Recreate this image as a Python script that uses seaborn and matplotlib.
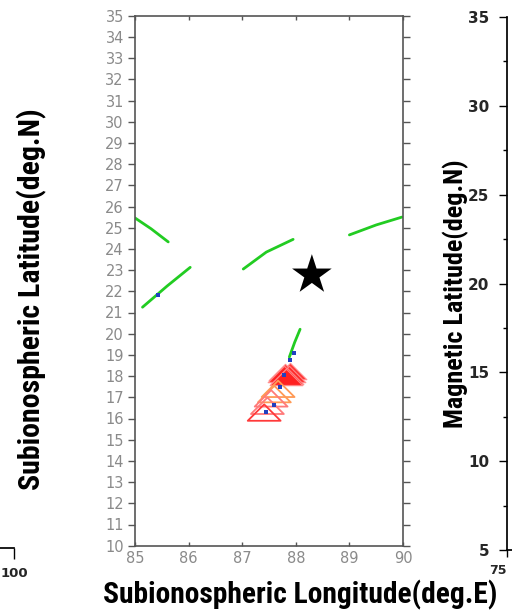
import numpy as np
import pandas as pd
import matplotlib
matplotlib.use("Agg")
import matplotlib.pyplot as plt
from matplotlib.path import Path
from matplotlib import font_manager
import seaborn as sns

# ---------------- data ----------------
seg_id = [1, 1, 1, 2, 2, 2, 3, 3, 3, 4, 4, 4, 5, 5, 5]
green_lon = [85.0, 85.3, 85.62, 85.14, 85.6, 86.03, 87.02, 87.45, 87.95,
             89.0, 89.5, 89.98, 88.08, 87.98, 87.88]
green_lat = [25.46, 24.95, 24.33, 21.25, 22.25, 23.13, 23.05, 23.85, 24.45,
             24.66, 25.13, 25.5, 20.21, 19.6, 18.9]

dome_lon = [87.9, 87.8, 87.88, 87.78, 87.84, 87.82]
dome_lat = [18.25, 18.2, 18.12, 18.08, 18.02, 17.95]

tri_lon = [87.67, 87.6, 87.54, 87.47, 87.41]
tri_lat = [17.4, 17.15, 16.95, 16.6, 16.28]
tri_kind = ["orange", "orange", "pink", "pink", "red"]

blue_lon = [85.43, 87.96, 87.9, 87.78, 87.7, 87.6, 87.45]
blue_lat = [21.83, 19.1, 18.76, 18.05, 17.5, 16.64, 16.32]

star_lon = [88.3]
star_lat = [22.77]

lat_ticks = list(range(10, 36))
lon_ticks = [85, 86, 87, 88, 89, 90]
mag_ticks = [5, 10, 15, 20, 25, 30, 35]

# ---------------- style ----------------
sns.set_theme(style="white")
fonts = font_manager.fontManager.ttflist
names = {f.name for f in fonts}
narrow, stretch = "DejaVu Sans", "normal"
for cand in ["Liberation Sans Narrow", "Roboto Condensed", "Open Sans Condensed"]:
    if cand in names:
        narrow = cand
        break
else:
    if any(f.name == "DejaVu Sans" and f.stretch in ("condensed", "semi-condensed")
           for f in fonts):
        stretch = "condensed"
plt.rcParams["font.family"] = ["DejaVu Sans"]

fig = plt.figure(figsize=(5.12, 6.13), dpi=100)
W, H = 512.0, 613.0

def fx(px):
    return px / W

def fy(py):
    return 1 - py / H

# main axes: left 135, right 403, top 15.7, bottom 545.7
ax = fig.add_axes([fx(135), fy(545.7), (403 - 135) / W, (545.7 - 15.7) / H])

green = "#22cc22"
df_g = pd.DataFrame({"lon": green_lon, "lat": green_lat, "seg": seg_id})
sns.lineplot(data=df_g, x="lon", y="lat", units="seg", estimator=None,
             sort=False, color=green, lw=2.0, ax=ax, legend=False)

tri_marker = Path([(-1, -0.5), (1, -0.5), (0, 0.5), (-1, -0.5)],
                  [Path.MOVETO, Path.LINETO, Path.LINETO, Path.CLOSEPOLY])

df_d = pd.DataFrame({"lon": dome_lon, "lat": dome_lat})
sns.scatterplot(data=df_d, x="lon", y="lat", marker=tri_marker, s=560,
                color="#ff2020", edgecolor="#ff9090", linewidth=0.8,
                alpha=0.9, ax=ax, legend=False, zorder=3)

tri_colors = {"orange": "#ff9a55", "pink": "#ff7a7a", "red": "#ff3a3a"}
df_t = pd.DataFrame({"lon": tri_lon, "lat": tri_lat, "kind": tri_kind})
for kind, sub in df_t.groupby("kind"):
    sns.scatterplot(data=sub, x="lon", y="lat", marker=tri_marker, s=560,
                    facecolor="none", edgecolor=tri_colors[kind],
                    linewidth=1.3, ax=ax, legend=False, zorder=3)

df_b = pd.DataFrame({"lon": blue_lon, "lat": blue_lat})
sns.scatterplot(data=df_b, x="lon", y="lat", marker="s", s=8,
                color="#2040c0", edgecolor="none", ax=ax, legend=False, zorder=4)

df_s = pd.DataFrame({"lon": star_lon, "lat": star_lat})
sns.scatterplot(data=df_s, x="lon", y="lat", marker="*", s=900,
                color="black", edgecolor="none", ax=ax, legend=False, zorder=5)

ax.set_xlim(85, 90)
ax.set_ylim(10, 35)
ax.set_yticks(lat_ticks)
ax.set_xticks(lon_ticks)
ax.set_yticklabels([str(t) for t in lat_ticks])
ax.set_xticklabels([str(t) for t in lon_ticks])
ax.tick_params(axis="y", which="major", left=True, right=True, direction="out",
               length=5, width=1, color="#555555", labelcolor="#8a8a8a",
               labelsize=10.5, pad=3)
ax.tick_params(axis="x", which="major", bottom=True, top=True, direction="in",
               length=3, width=1, color="#555555", labelcolor="#8a8a8a",
               labelsize=10.5, pad=4)
for sp in ax.spines.values():
    sp.set_visible(True)
    sp.set_color("#555555")
    sp.set_linewidth(1.2)

lab_kw = dict(family=[narrow, "DejaVu Sans"], fontweight="bold",
              fontstretch=stretch, color="black")
xl = ax.set_xlabel("Subionospheric Longitude(deg.E)", fontsize=19, **lab_kw)
ax.xaxis.set_label_coords(fx(300), fy(580), transform=fig.transFigure)
yl = ax.set_ylabel("Subionospheric Latitude(deg.N)", fontsize=19, **lab_kw)
ax.yaxis.set_label_coords(fx(47), fy(299), transform=fig.transFigure)

# right partial panel: magnetic latitude
ax2 = fig.add_axes([fx(507), fy(550), 0.3, (550 - 17) / H])
ax2.set_ylim(5, 35)
ax2.set_xlim(75, 100)
ax2.set_yticks(mag_ticks)
ax2.set_yticks([7.5, 12.5, 17.5, 22.5, 27.5, 32.5], minor=True)
ax2.set_yticklabels([str(t) for t in mag_ticks])
ax2.set_xticks([75])
ax2.set_xticklabels(["75"], ha="right")
ax2.tick_params(axis="y", which="major", left=True, direction="out", length=6,
                width=1, color="black", labelsize=11, pad=7)
ax2.tick_params(axis="y", which="minor", left=True, direction="out", length=3,
                width=1, color="black")
ax2.tick_params(axis="x", which="major", bottom=True, direction="out", length=5,
                width=1, color="black", labelsize=9, pad=5)
for lab in ax2.get_yticklabels() + ax2.get_xticklabels():
    lab.set_fontweight("bold")
ax2.spines["top"].set_visible(False)
ax2.spines["right"].set_visible(False)
ax2.spines["left"].set_color("black")
ax2.spines["bottom"].set_color("black")
ax2.set_facecolor("none")
ml = ax2.set_ylabel("Magnetic Latitude(deg.N)", fontsize=16.5, **lab_kw)
ax2.yaxis.set_label_coords(fx(469), fy(294), transform=fig.transFigure)

# left partial panel: edge of neighbouring chart
ax3 = fig.add_axes([fx(-100), fy(548), fx(114), 0.3])
ax3.set_xlim(0, 100)
ax3.set_ylim(0, 1)
ax3.set_xticks([100])
ax3.set_xticklabels(["100"])
ax3.set_yticks([])
ax3.tick_params(axis="x", which="major", bottom=True, direction="out", length=8,
                width=1, color="black", labelsize=9.5, pad=6)
for lab in ax3.get_xticklabels():
    lab.set_fontweight("bold")
for k in ["top", "left", "right"]:
    ax3.spines[k].set_visible(False)
ax3.spines["bottom"].set_color("black")
ax3.set_facecolor("none")

# fit label lengths to the reference
renderer = fig.canvas.get_renderer()
for txt, target, horiz in [(xl, 394, True), (yl, 382, False), (ml, 268, False)]:
    bb = txt.get_window_extent(renderer)
    cur = bb.width if horiz else bb.height
    txt.set_fontsize(txt.get_fontsize() * target / cur)

fig.savefig("out.png", dpi=100)
